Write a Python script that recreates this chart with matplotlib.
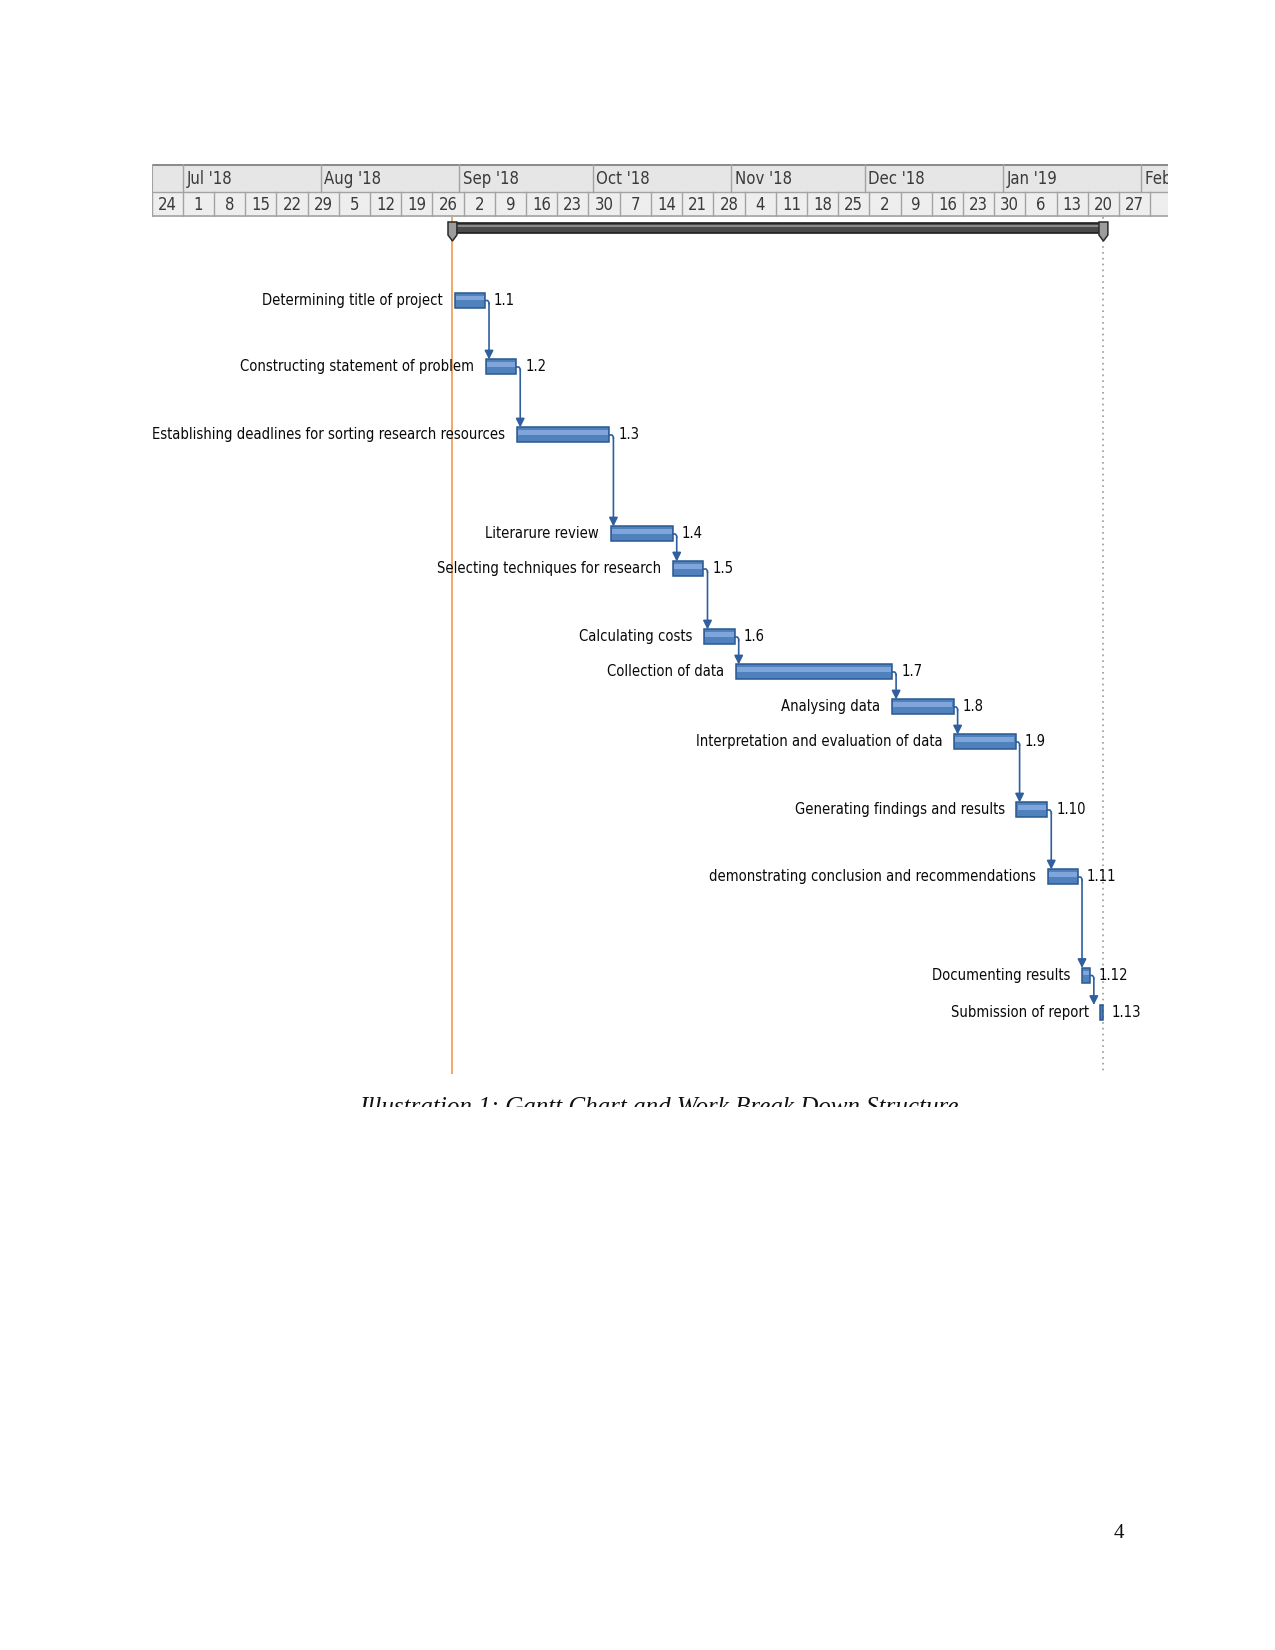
import matplotlib
matplotlib.use('Agg')
import matplotlib.pyplot as plt
import matplotlib.dates as mdates
from matplotlib import font_manager
import pandas as pd

# --- data ---
task_names = ['Determining title of project', 'Constructing statement of problem',
              'Establishing deadlines for sorting research resources', 'Literarure review',
              'Selecting techniques for research', 'Calculating costs', 'Collection of data',
              'Analysing data', 'Interpretation and evaluation of data',
              'Generating findings and results', 'demonstrating conclusion and recommendations',
              'Documenting results', 'Submission of report']
task_ids = ['1.1', '1.2', '1.3', '1.4', '1.5', '1.6', '1.7', '1.8', '1.9', '1.10', '1.11', '1.12', '1.13']
task_start = ['2018-08-31', '2018-09-07', '2018-09-14', '2018-10-05', '2018-10-19', '2018-10-26',
              '2018-11-02', '2018-12-07', '2018-12-21', '2019-01-04', '2019-01-11', '2019-01-18 18:00',
              '2019-01-22 20:00']
task_days = [6.8, 6.8, 20.7, 13.9, 6.8, 6.8, 35.1, 13.9, 13.8, 6.9, 6.8, 1.7, 0.5]
project_start = '2018-08-30 12:00'
project_end = '2019-01-23 12:00'

week_labels = ['24', '1', '8', '15', '22', '29', '5', '12', '19', '26', '2', '9', '16', '23', '30',
               '7', '14', '21', '28', '4', '11', '18', '25', '2', '9', '16', '23', '30', '6', '13',
               '20', '27', '']
month_labels = ["Jul '18", "Aug '18", "Sep '18", "Oct '18", "Nov '18", "Dec '18", "Jan '19", "Feb '19"]
first_week = '2018-06-24'
first_month = '2018-07-01'
view_end = '2019-02-06 22:00'

# --- layout (figure pixels) ---
W, H = 1275, 1650
row_y = [300.5, 367, 435, 534, 569, 637, 672, 707, 742, 810, 877, 975.5, 1012.5]
bar_h = 15
x_left, x_right = 151.5, 1167.7
hdr_top, hdr_mid, hdr_bot = 163.5, 191.7, 216.7
chart_bot = 1075

names = {f.name for f in font_manager.fontManager.ttflist}
if 'Liberation Sans Narrow' in names:
    narrow = dict(family='Liberation Sans Narrow')
else:
    narrow = dict(family='DejaVu Sans', stretch='condensed')
serif = ['Liberation Serif', 'DejaVu Serif']

bar_col = '#4F81BD'
bar_edge = '#2B5891'
link_col = '#2F5F9E'
txt_col = '#0A0A0A'

x0 = mdates.date2num(pd.Timestamp(first_week))
x1 = mdates.date2num(pd.Timestamp(view_end))
starts = [mdates.date2num(pd.Timestamp(s)) for s in task_start]
ends = [s + d for s, d in zip(starts, task_days)]
p0 = mdates.date2num(pd.Timestamp(project_start))
p1 = mdates.date2num(pd.Timestamp(project_end))

fig = plt.figure(figsize=(W / 100, H / 100), dpi=100)


def fig_axes(l, r, t, b):
    return fig.add_axes([l / W, 1 - b / H, (r - l) / W, (b - t) / H])


# --- timescale header ---
hx = fig_axes(x_left, x_right, hdr_top, hdr_bot)
hx.set_xlim(x0, x1)
hx.set_ylim(hdr_bot, hdr_top)
hx.axis('off')
hx.axhspan(hdr_top, hdr_mid, color='#E6E6E6', lw=0)
hx.axhspan(hdr_mid, hdr_bot, color='#EEEEEE', lw=0)
line_col = '#A3A3A3'
hx.axhline(hdr_top + 1, color='#8C8C8C', lw=2.2)
hx.axhline(hdr_mid, color=line_col, lw=1)
hx.axhline(hdr_bot - 0.8, color=line_col, lw=1.2)
hx.axvline(x0, color=line_col, lw=1.5)

weeks = pd.date_range(first_week, periods=len(week_labels), freq='7D')
for d, lab in zip(weeks, week_labels):
    wx = mdates.date2num(d)
    hx.plot([wx, wx], [hdr_mid, hdr_bot], color=line_col, lw=1)
    hx.text(wx + 3.5, (hdr_mid + hdr_bot) / 2 + 1, lab, ha='center', va='center',
            fontsize=12, color='#3A3A3A', clip_on=True, **narrow)

months = pd.date_range(first_month, periods=len(month_labels), freq='MS')
for d, lab in zip(months, month_labels):
    mx = mdates.date2num(d)
    hx.plot([mx, mx], [hdr_top, hdr_mid], color=line_col, lw=1)
    hx.text(mx + 0.8, (hdr_top + hdr_mid) / 2 + 1.5, lab, ha='left', va='center',
            fontsize=12, color='#3A3A3A', clip_on=True, **narrow)

# --- gantt body ---
ax = fig_axes(x_left, x_right, hdr_bot, chart_bot)
ax.set_xlim(x0, x1)
ax.set_ylim(chart_bot, hdr_bot)
ax.axis('off')

# status line and project finish line
ax.plot([p0, p0], [hdr_bot, chart_bot - 2], color='#F0A868', lw=1.4, zorder=1)
ax.plot([p1, p1], [hdr_bot, chart_bot - 2], color='#9A9A9A', lw=1.2, ls=(0, (1, 2.5)), zorder=1)

# project summary bar
ax.barh(228, p1 - p0, left=p0, height=10, color='#4A4A4A', edgecolor='#1E1E1E', lw=1.2, zorder=3)
ax.barh(226, p1 - p0, left=p0, height=2.5, color='#8A8A8A', lw=0, zorder=4)
for px in (p0, p1):
    ax.fill([px - 1.0, px + 1.0, px + 1.0, px, px - 1.0], [222, 222, 235, 241, 235],
            facecolor='#9C9C9C', edgecolor='#2A2A2A', lw=1.1, zorder=5)

for i in range(len(task_names)):
    y = row_y[i]
    ax.barh(y, task_days[i], left=starts[i], height=bar_h, color=bar_col,
            edgecolor=bar_edge, lw=1.1, zorder=3)
    if task_days[i] > 1:
        ax.barh(y - 2.5, task_days[i] - 0.5, left=starts[i] + 0.25, height=bar_h * 0.3,
                color='#7FA5DA', lw=0, zorder=4)
    ax.annotate(task_names[i], xy=(starts[i], y), xytext=(-8.5, 0), textcoords='offset points',
                ha='right', va='center', fontsize=10.6, color=txt_col, zorder=6, **narrow)
    ax.annotate(task_ids[i], xy=(ends[i], y), xytext=(6.5, 0), textcoords='offset points',
                ha='left', va='center', fontsize=10.6, color=txt_col, zorder=6, **narrow)

# finish-to-start links
for i in range(len(task_names) - 1):
    xv = ends[i] + 0.9
    y = row_y[i]
    ax.plot([ends[i], xv - 0.3, xv, xv], [y, y, y + 2, y + 3], color=link_col, lw=1.2, zorder=2)
    ax.annotate('', xy=(xv, row_y[i + 1] - bar_h / 2), xytext=(xv, y + 3),
                arrowprops=dict(arrowstyle='-|>', color=link_col, lw=1.2,
                                mutation_scale=13, shrinkA=0, shrinkB=0), zorder=2)

# --- caption (cut off at the bottom as in the page) ---
cx = fig_axes(300, 1020, chart_bot, 1106.7)
cx.axis('off')
cx.text((659 - 300) / 720, (1106.7 - 1114.5) / (1106.7 - chart_bot),
        'Illustration 1: Gantt Chart and Work Break Down Structure',
        transform=cx.transAxes, ha='center', va='baseline', fontsize=18,
        style='italic', family=serif, color='#111111', clip_on=True)

fig.text(1119 / W, 1 - 1538 / H, '4', ha='center', va='baseline', fontsize=15,
         family=serif, color='#111111')

fig.savefig('out.png', dpi=100)
